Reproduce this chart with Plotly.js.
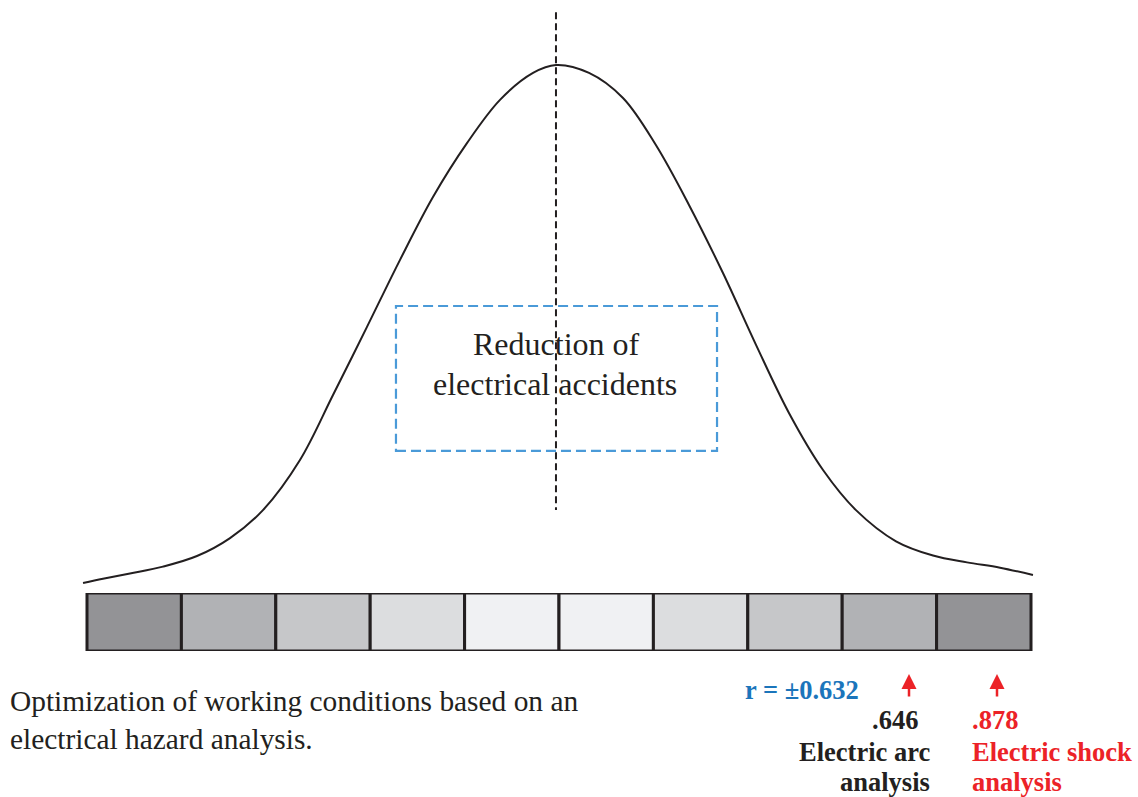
<!DOCTYPE html>
<html>
<head>
<meta charset="utf-8">
<script src="https://cdn.plot.ly/plotly-3.0.1.min.js"></script>
<style>html,body{margin:0;padding:0;background:#fff;}#chart{width:1138px;height:797px;}</style>
</head>
<body>
<div id="chart"></div>
<script>
// ---- data (x in cell units 0..10, y = relative density, peak = 1) ----
const curveX = [-0.042, 0.169, 0.455, 0.805, 1.165, 1.515, 1.864, 2.256, 2.606, 2.966, 3.316, 3.665, 4.025, 4.375, 4.725, 4.968,
                5.318, 5.678, 6.028, 6.377, 6.737, 7.087, 7.436, 7.797, 8.146, 8.570, 8.962, 9.322, 9.672, 10.021];
const curveY = [0.019, 0.027, 0.037, 0.050, 0.070, 0.104, 0.157, 0.252, 0.375, 0.504, 0.631, 0.750, 0.852, 0.934, 0.985, 1.000,
                0.985, 0.9375, 0.848, 0.735, 0.606, 0.470, 0.341, 0.233, 0.157, 0.098, 0.071, 0.058, 0.048, 0.034];
const meanX = 4.968;
const cellIndex = [1, 2, 3, 4, 5, 6, 7, 8, 9, 10];
const cellLevel = [5, 4, 3, 2, 1, 1, 2, 3, 4, 5];
const boxText = ["Reduction of", "electrical accidents"];
const noteText = ["Optimization of working conditions based on an", "electrical hazard analysis."];
const rText = "r = \u00b10.632";
const arcValue = ".646";
const arcLabel = ["Electric arc", "analysis"];
const shockValue = ".878";
const shockLabel = ["Electric shock", "analysis"];

// ---- page geometry helpers ----
const W = 1138, H = 797;
const px = v => v / W;
const py = v => 1 - v / H;
const ink = '#231f20', blue = '#1b75bb', red = '#ec2227';
const serif = '"Liberation Serif", "Times New Roman", serif';

const traces = [
  {
    x: curveX, y: curveY, type: 'scatter', mode: 'lines',
    line: {color: ink, width: 2, shape: 'spline', smoothing: 1},
    xaxis: 'x', yaxis: 'y', hoverinfo: 'skip'
  },
  {
    x: [meanX, meanX], y: [1.10, 0.157], type: 'scatter', mode: 'lines',
    line: {color: ink, width: 2, dash: '7px,4px'},
    xaxis: 'x', yaxis: 'y', hoverinfo: 'skip'
  },
  {
    x: cellIndex.map(i => i - 0.5), y: cellIndex.map(() => 1), type: 'bar', width: 1,
    marker: {
      color: cellLevel, cmin: 1, cmax: 5,
      colorscale: [[0, '#f0f1f3'], [0.25, '#dcdddf'], [0.5, '#c6c7c9'], [0.75, '#b1b2b5'], [1, '#939396']],
      line: {color: ink, width: 3}
    },
    cliponaxis: false, xaxis: 'x', yaxis: 'y2', hoverinfo: 'skip'
  }
];

function ann(text, x, y, xanchor, color, size, bold) {
  return {
    text: bold ? '<b>' + text + '</b>' : text,
    xref: 'paper', yref: 'paper', x: px(x), y: py(y),
    xanchor: xanchor, yanchor: 'middle', showarrow: false,
    font: {family: serif, size: size, color: color}
  };
}

const annotations = [
  ann(boxText[0], 556, 344, 'center', ink, 32, false),
  ann(boxText[1], 555, 384, 'center', ink, 32, false),
  ann(noteText[0], 8, 701, 'left', ink, 29.4, false),
  ann(noteText[1], 8, 739, 'left', ink, 29.4, false),
  ann(rText, 743, 690, 'left', blue, 26.5, true),
  ann(arcValue, 920, 720, 'right', ink, 26.5, true),
  ann(arcLabel[0], 932, 752, 'right', ink, 26.5, true),
  ann(arcLabel[1], 932, 782, 'right', ink, 26.5, true),
  ann(shockValue, 970, 720, 'left', red, 26.5, true),
  ann(shockLabel[0], 970, 752, 'left', red, 26.5, true),
  ann(shockLabel[1], 970, 782, 'left', red, 26.5, true),
  {text: '', xref: 'paper', yref: 'paper', x: px(909), y: py(674), ax: 0, ay: 24,
   showarrow: true, arrowhead: 2, arrowsize: 1.2, arrowwidth: 2.5, arrowcolor: red},
  {text: '', xref: 'paper', yref: 'paper', x: px(997), y: py(674), ax: 0, ay: 24,
   showarrow: true, arrowhead: 2, arrowsize: 1.2, arrowwidth: 2.5, arrowcolor: red}
];

const layout = {
  width: W, height: H,
  margin: {l: 0, r: 0, t: 0, b: 0, pad: 0},
  paper_bgcolor: '#ffffff', plot_bgcolor: 'rgba(0,0,0,0)',
  showlegend: false,
  xaxis: {range: [-87 / 94.4, (W - 87) / 94.4], visible: false, fixedrange: true},
  yaxis: {range: [(593 - H) / 528, 593 / 528], domain: [0, 1], visible: false, fixedrange: true},
  yaxis2: {range: [0, 1], domain: [1 - 651 / H, 1 - 593 / H], visible: false, fixedrange: true},
  shapes: [
    {type: 'rect', xref: 'x', yref: 'y', x0: 3.273, x1: 6.674, y0: 0.269, y1: 0.5436,
     line: {color: '#4a9ad8', width: 2.2, dash: '10px,5px'}, fillcolor: 'rgba(0,0,0,0)'}
  ],
  annotations: annotations
};

Plotly.newPlot('chart', traces, layout, {staticPlot: true, displayModeBar: false});
</script>
</body>
</html>
